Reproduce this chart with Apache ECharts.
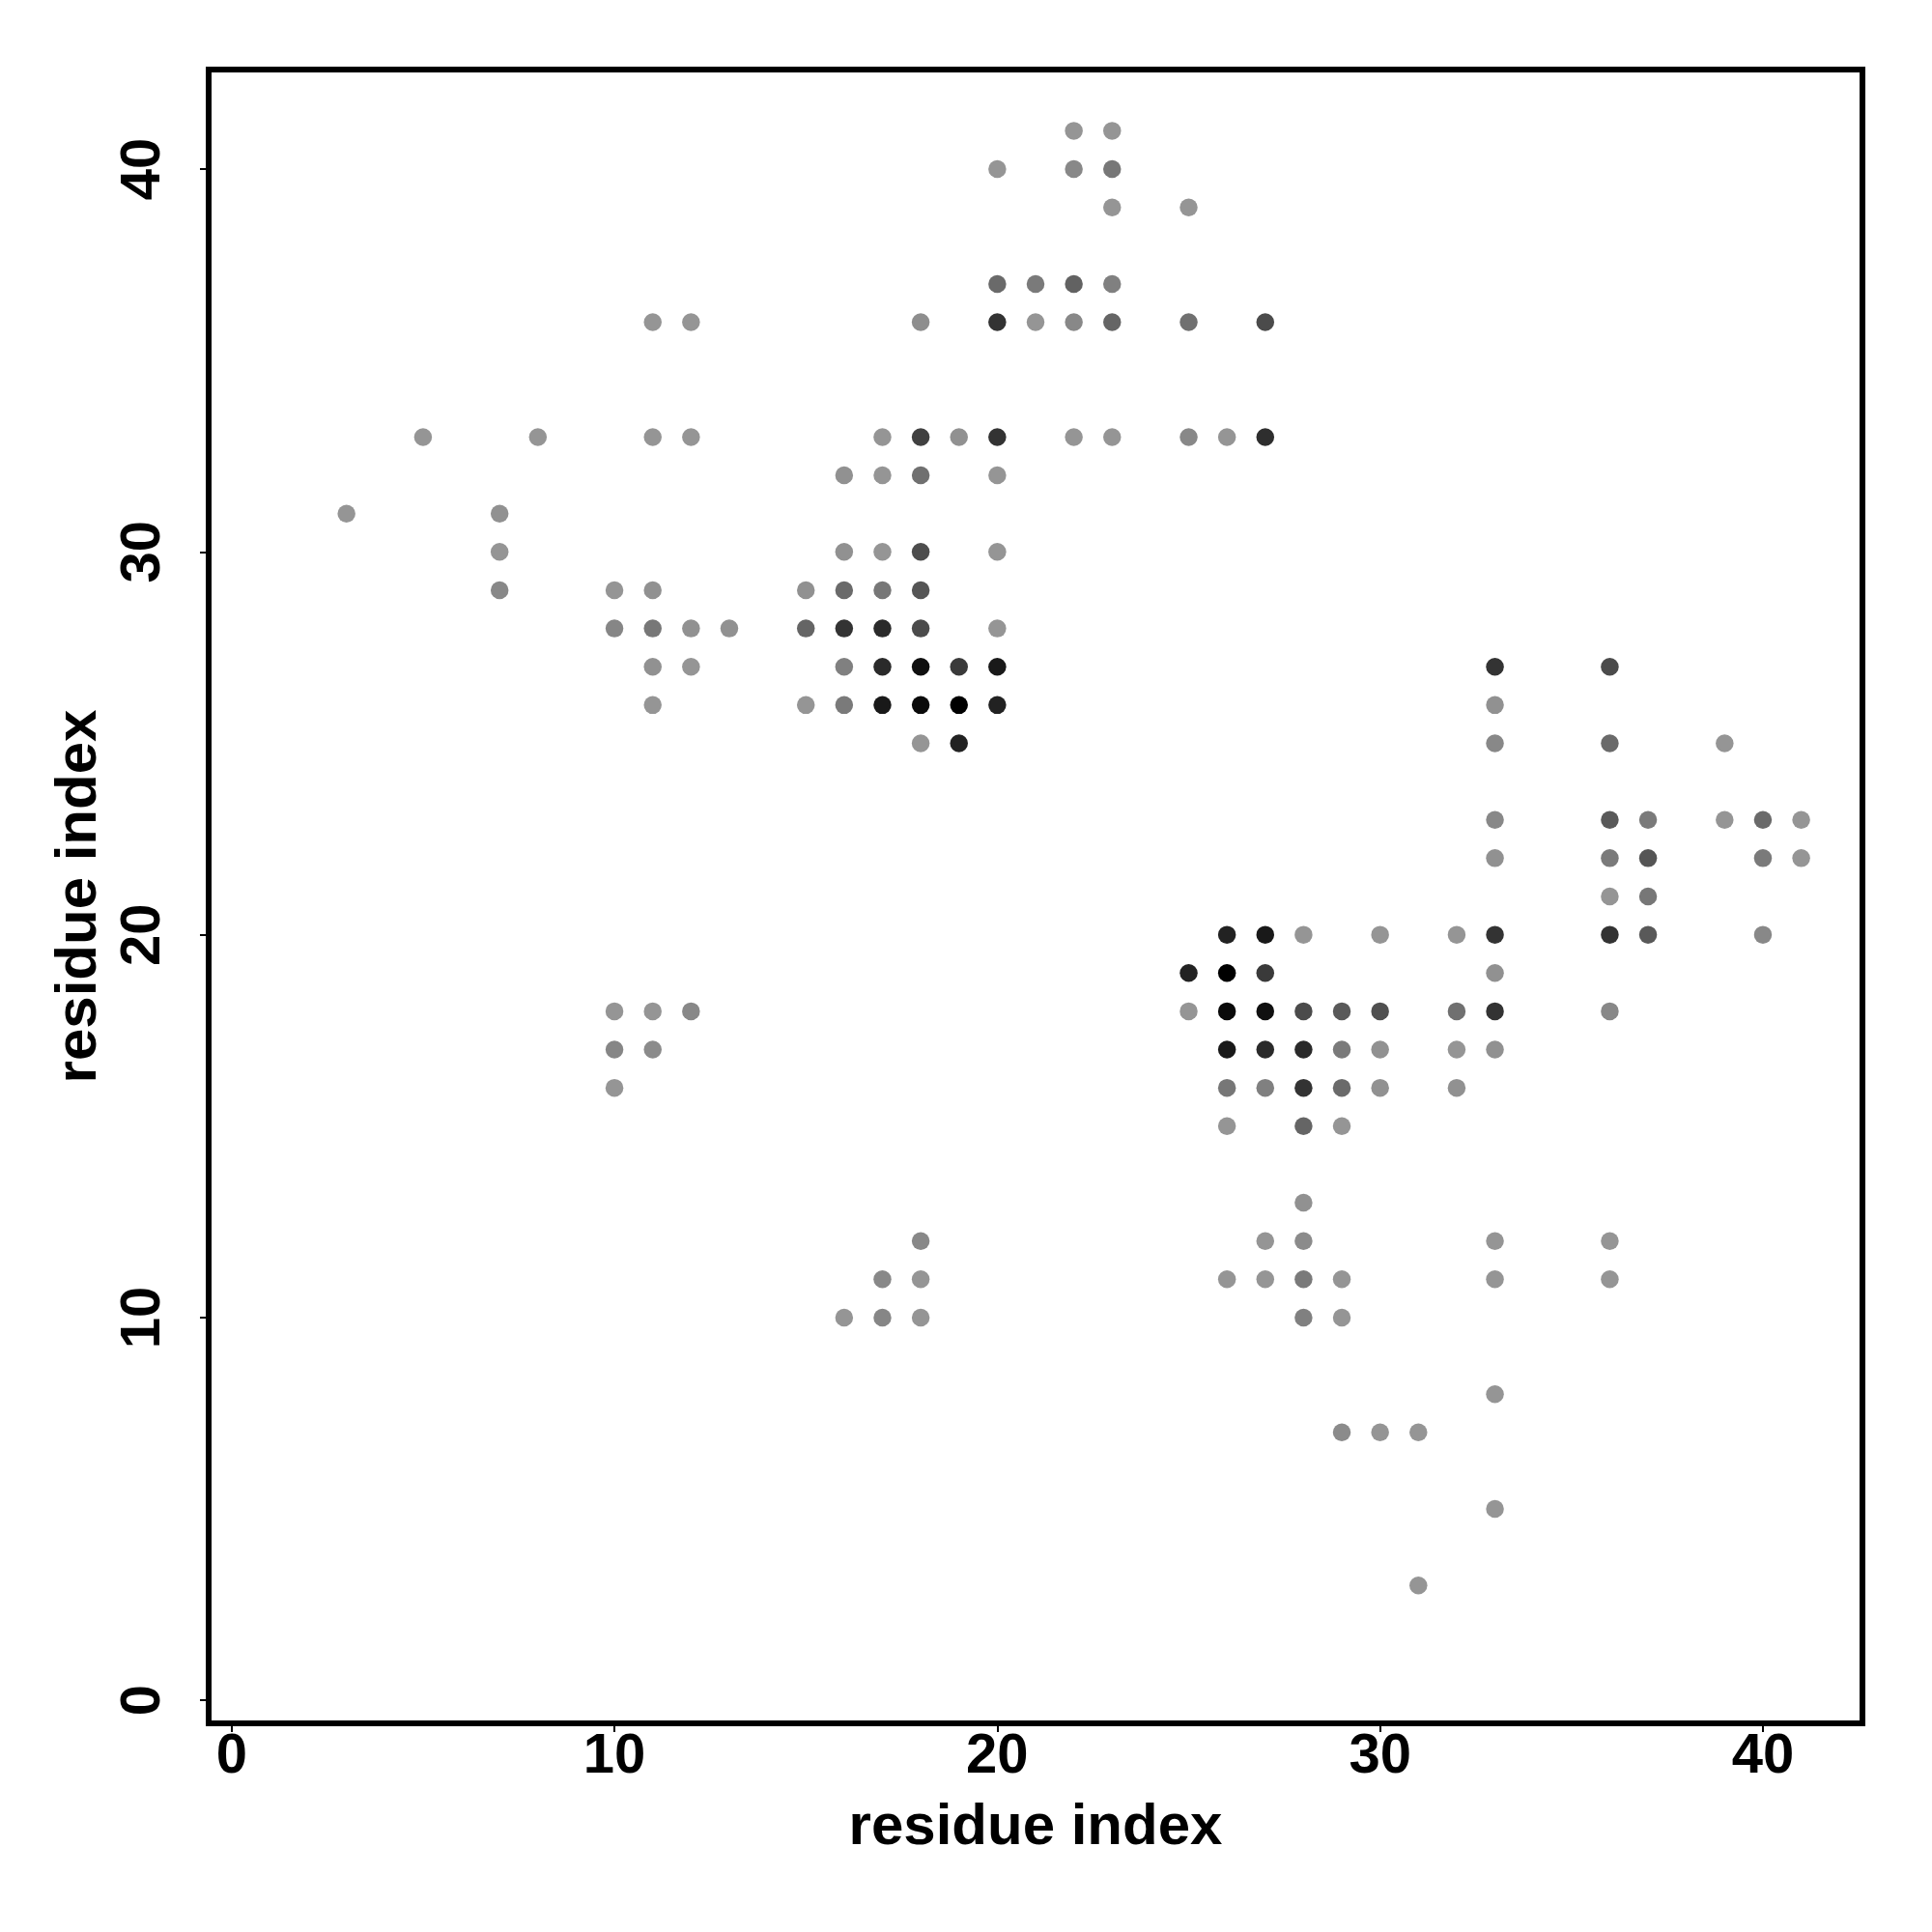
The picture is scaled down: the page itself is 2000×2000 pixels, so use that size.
<!DOCTYPE html>
<html>
<head>
<meta charset="utf-8">
<script src="https://cdn.jsdelivr.net/npm/echarts@6/dist/echarts.min.js"></script>
<style>
html,body{margin:0;padding:0;background:#fff;}
#chart{width:2000px;height:2000px;}
</style>
</head>
<body>
<div id="chart"></div>
<script>
// contact points: [residue i, residue j, contact strength 0..1 (0 = light grey, 1 = black)]
var contacts = [
  [22,41,0],[23,41,0],
  [20,40,0],[22,40,0.09],[23,40,0.2],
  [23,39,0],[25,39,0],
  [20,37,0.29],[21,37,0.18],[22,37,0.34],[23,37,0.14],
  [11,36,0],[12,36,0],[18,36,0.05],[20,36,0.66],[21,36,0],[22,36,0.09],[23,36,0.32],[25,36,0.25],[27,36,0.5],
  [5,33,0],[8,33,0],[11,33,0],[12,33,0],[17,33,0],[18,33,0.57],[19,33,0.03],[20,33,0.66],[22,33,0],[23,33,0],[25,33,0.09],[26,33,0],[27,33,0.69],
  [16,32,0.03],[17,32,0],[18,32,0.25],[20,32,0],
  [3,31,0],[7,31,0.03],
  [7,30,0],[16,30,0.03],[17,30,0],[18,30,0.48],[20,30,0],
  [7,29,0.09],[10,29,0],[11,29,0.03],[15,29,0.03],[16,29,0.29],[17,29,0.2],[18,29,0.43],
  [10,28,0.1],[11,28,0.2],[12,28,0.03],[13,28,0.03],[15,28,0.32],[16,28,0.66],[17,28,0.72],[18,28,0.5],[20,28,0],
  [11,27,0.03],[12,27,0],[16,27,0.14],[17,27,0.72],[18,27,0.9],[19,27,0.61],[20,27,0.83],[33,27,0.66],[36,27,0.5],
  [11,26,0],[15,26,0],[16,26,0.18],[17,26,0.83],[18,26,0.93],[19,26,1],[20,26,0.77],[33,26,0.03],
  [18,25,0],[19,25,0.77],[33,25,0.09],[36,25,0.29],[39,25,0],
  [33,23,0.09],[36,23,0.4],[37,23,0.18],[39,23,0],[40,23,0.29],[41,23,0],
  [33,22,0.03],[36,22,0.18],[37,22,0.43],[40,22,0.18],[41,22,0],
  [36,21,0],[37,21,0.2],
  [26,20,0.77],[27,20,0.83],[28,20,0],[30,20,0],[32,20,0],[33,20,0.66],[36,20,0.66],[37,20,0.4],[40,20,0.09],
  [25,19,0.77],[26,19,1],[27,19,0.61],[33,19,0.03],
  [10,18,0],[11,18,0],[12,18,0.09],[25,18,0],[26,18,0.93],[27,18,0.89],[28,18,0.5],[29,18,0.4],[30,18,0.46],[32,18,0.25],[33,18,0.66],[36,18,0.09],
  [10,17,0.1],[11,17,0.07],[26,17,0.83],[27,17,0.72],[28,17,0.72],[29,17,0.18],[30,17,0.03],[32,17,0],[33,17,0.03],
  [10,16,0],[26,16,0.2],[27,16,0.14],[28,16,0.66],[29,16,0.29],[30,16,0.03],[32,16,0.03],
  [26,15,0],[28,15,0.32],[29,15,0],
  [28,13,0.03],
  [18,12,0.09],[27,12,0],[28,12,0.07],[33,12,0],[36,12,0],
  [17,11,0.09],[18,11,0],[26,11,0],[27,11,0],[28,11,0.18],[29,11,0],[33,11,0],[36,11,0],
  [16,10,0],[17,10,0.1],[18,10,0],[28,10,0.14],[29,10,0],
  [33,8,0],
  [29,7,0.07],[30,7,0],[31,7,0],
  [33,5,0],
  [31,3,0]
];
var xTicks = [0, 10, 20, 30, 40];
var yTicks = [0, 10, 20, 30, 40];
var xTitle = 'residue index';
var yTitle = 'residue index';

var FONT = '"Liberation Sans", Arial, Helvetica, sans-serif';
var chart = echarts.init(document.getElementById('chart'), null, {renderer: 'canvas'});
chart.setOption({
  animation: false,
  backgroundColor: '#ffffff',
  grid: {
    left: 216, top: 72, width: 1712, height: 1712,
    show: true, borderColor: '#000', borderWidth: 6, backgroundColor: 'transparent'
  },
  visualMap: {
    show: false, type: 'continuous', dimension: 2, min: 0, max: 1,
    inRange: {color: ['#959595', '#000000']}
  },
  xAxis: {
    type: 'value', min: -0.6, max: 42.6,
    name: xTitle, nameLocation: 'middle', nameGap: 78,
    nameTextStyle: {fontFamily: FONT, fontWeight: 'bold', fontSize: 60, color: '#000'},
    splitLine: {show: false},
    axisLine: {show: false, onZero: false},
    axisTick: {show: true, customValues: xTicks, length: 9, lineStyle: {color: '#000', width: 2}},
    axisLabel: {customValues: xTicks, margin: 6, fontFamily: FONT, fontWeight: 'bold', fontSize: 58, color: '#000'}
  },
  yAxis: {
    type: 'value', min: -0.6, max: 42.6,
    name: yTitle, nameLocation: 'middle', nameGap: 104,
    nameTextStyle: {fontFamily: FONT, fontWeight: 'bold', fontSize: 60, color: '#000'},
    splitLine: {show: false},
    axisLine: {show: false, onZero: false},
    axisTick: {show: true, customValues: yTicks, length: 9, lineStyle: {color: '#000', width: 2}},
    axisLabel: {customValues: yTicks, rotate: 90, margin: 38, fontFamily: FONT, fontWeight: 'bold', fontSize: 58, color: '#000'}
  },
  series: [{
    type: 'scatter',
    data: contacts,
    symbol: 'circle',
    symbolSize: 18.5,
    itemStyle: {opacity: 1}
  }]
});
</script>
</body>
</html>
